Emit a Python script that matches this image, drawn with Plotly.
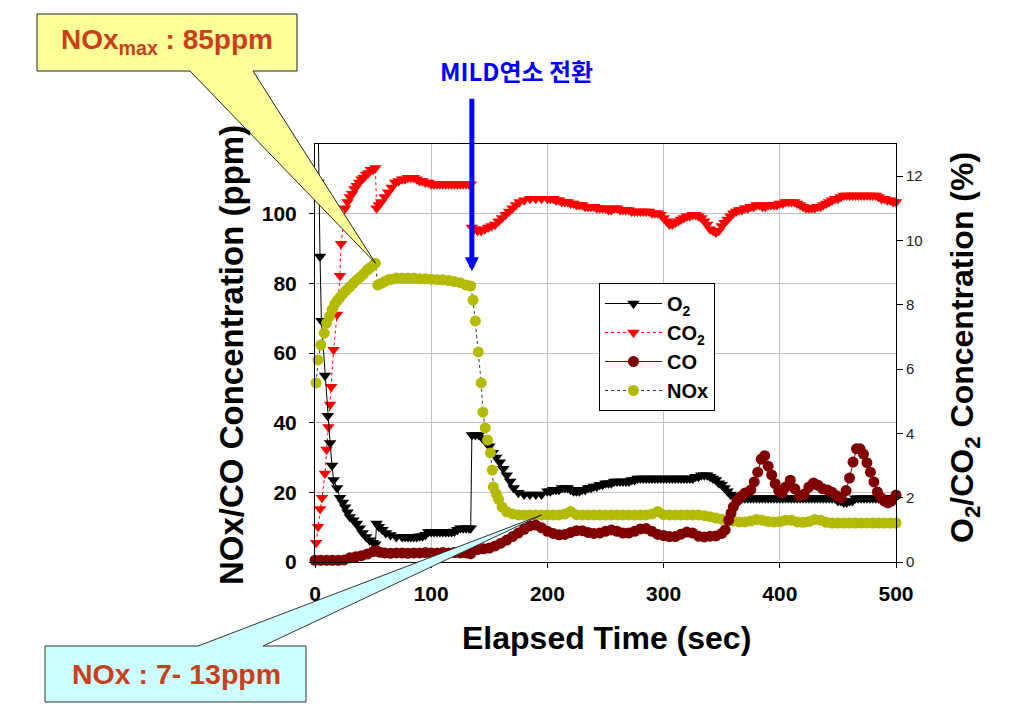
import plotly.graph_objects as go

# ---------------- data ----------------
# O2 (%), right axis
o2_time = ([0, 3, 4.3, 5.5, 8.6, 11, 13, 14.6, 16, 19,
            21.5, 24, 26, 28, 30, 33, 36, 38.5, 41, 44,
            47, 50, 52, 53, 55, 58, 61, 65, 70]
           + [75 + 2.5 * i for i in range(24)]
           + [134, 135, 138, 141, 144, 147, 150, 153, 156,
              159, 162, 165, 168, 171, 175, 180, 185, 190, 195]
           + [200 + 2.5 * i for i in range(121)])
o2_pct = [21.0, 11.8, 9.5, 7.5, 5.8, 4.55, 3.7, 3.0, 2.55, 2.3,
          2.0, 1.85, 1.7, 1.55, 1.4, 1.3, 1.2, 1.05, 0.9, 0.78,
          0.68, 0.6, 0.55, 1.2, 1.1, 1.0, 0.9, 0.84, 0.78,
          # 75 .. 132.5
          0.78, 0.78, 0.78, 0.78, 0.78, 0.78, 0.8, 0.8, 0.85, 0.93,
          0.93, 0.93, 0.93, 0.93, 0.93, 0.93, 0.93, 0.93, 0.95, 1.0,
          1.05, 1.05, 1.05, 1.05,
          # 134 .. 195
          1.05, 3.95, 3.95, 3.95, 3.85, 3.75, 3.6, 3.4, 3.25,
          3.1, 2.9, 2.7, 2.5, 2.3, 2.15, 2.1, 2.1, 2.1, 2.1,
          # 200 .. 500
          2.2, 2.2, 2.25, 2.25, 2.25, 2.3, 2.3, 2.3, 2.25, 2.2,
          2.2, 2.2, 2.25, 2.25, 2.3, 2.3, 2.35, 2.35, 2.4, 2.4,
          2.45, 2.45, 2.45, 2.5, 2.5, 2.5, 2.5, 2.5, 2.5, 2.55,
          2.55, 2.6, 2.6, 2.6, 2.6, 2.6, 2.6, 2.6, 2.6, 2.6,
          2.6, 2.6, 2.6, 2.6, 2.6, 2.6, 2.6, 2.6, 2.6, 2.6,
          2.6, 2.65, 2.65, 2.7, 2.7, 2.7, 2.65, 2.6, 2.55, 2.45,
          2.4, 2.3, 2.2, 2.1, 2.05, 2.0, 1.98, 1.98, 1.98, 1.98,
          1.98, 1.98, 1.98, 1.98, 1.98, 1.98, 1.98, 1.98, 1.98, 1.98,
          1.98, 1.98, 1.98, 1.98, 1.98, 1.98, 1.98, 1.98, 1.98, 1.98,
          1.98, 1.98, 1.98, 1.98, 1.98, 1.98, 1.98, 1.98, 1.98, 1.98,
          1.9, 1.9, 1.85, 1.85, 1.9, 1.9, 1.98, 1.98, 1.98, 1.98,
          1.98, 1.98, 1.98, 1.98, 1.98, 1.98, 1.98, 1.98, 1.98, 1.98,
          1.98]

# CO2 (%), right axis
co2_time = ([1, 2.6, 4.3, 6, 8.6, 10, 11.5, 13, 14, 16,
             19, 21.5, 22.4, 26, 28, 30, 32, 34, 36, 38,
             40, 42, 44, 46, 48, 50, 52, 53, 55, 57,
             60, 63, 66, 69, 72]
            + [75 + 2.5 * i for i in range(24)]
            + [134, 135, 137, 140, 143, 146, 149, 152, 155, 158, 161, 164,
               167, 170, 173, 176, 180, 185, 190, 195]
            + [200 + 2.5 * i for i in range(121)])
co2_pct = [0.6, 1.1, 1.65, 2.0, 2.75, 3.5, 4.2, 4.9, 5.45, 6.6,
           7.7, 8.9, 9.9, 11.0, 11.2, 11.35, 11.45, 11.6, 11.7, 11.8,
           11.9, 11.95, 12.05, 12.1, 12.2, 12.2, 12.25, 11.0, 11.1, 11.2,
           11.35, 11.5, 11.65, 11.8, 11.85,
           # 75 .. 132.5
           11.9, 11.9, 11.95, 11.95, 11.95, 11.9, 11.85, 11.85, 11.8, 11.8,
           11.75, 11.75, 11.75, 11.75, 11.75, 11.75, 11.75, 11.75, 11.75, 11.75,
           11.75, 11.75, 11.75, 11.75,
           # 134 .. 195
           11.75, 10.4, 10.35, 10.3, 10.3, 10.35, 10.4, 10.45, 10.5, 10.6, 10.7, 10.8,
           10.9, 11.0, 11.1, 11.2, 11.25, 11.3, 11.3, 11.3,
           # 200 .. 500
           11.3, 11.3, 11.3, 11.25, 11.25, 11.2, 11.2, 11.2, 11.15, 11.15,
           11.1, 11.1, 11.1, 11.05, 11.05, 11.05, 11.05, 11.0, 11.0, 11.0,
           11.0, 10.95, 10.95, 11.0, 11.0, 10.95, 10.95, 10.95, 10.95, 10.9,
           10.9, 10.9, 10.9, 10.9, 10.9, 10.9, 10.85, 10.85, 10.85, 10.8,
           10.7, 10.6, 10.5, 10.5, 10.55, 10.6, 10.65, 10.7, 10.75, 10.75,
           10.8, 10.8, 10.75, 10.7, 10.6, 10.5, 10.35, 10.3, 10.25, 10.3,
           10.45, 10.55, 10.65, 10.75, 10.85, 10.9, 10.95, 10.95, 11.0, 11.0,
           11.05, 11.05, 11.1, 11.1, 11.05, 11.05, 11.1, 11.1, 11.1, 11.1,
           11.15, 11.15, 11.2, 11.2, 11.2, 11.2, 11.15, 11.1, 11.05, 11.0,
           11.0, 11.0, 11.0, 11.05, 11.05, 11.1, 11.15, 11.2, 11.25, 11.3,
           11.3, 11.35, 11.4, 11.4, 11.4, 11.4, 11.4, 11.4, 11.4, 11.4,
           11.4, 11.4, 11.4, 11.4, 11.35, 11.3, 11.3, 11.25, 11.25, 11.2,
           11.2]

# CO (ppm), left axis
co_time = [0, 5, 10, 15, 20, 25, 30, 35, 40, 45,
           50, 53, 56, 60, 65, 70, 75, 80, 85, 90,
           95, 100, 105, 110, 115, 120, 125, 130, 134, 136,
           140, 145, 150, 155, 160, 165, 170, 175, 180, 185,
           190, 195, 200, 205, 210, 215, 220, 225, 230, 235,
           240, 245, 250, 255, 260, 265, 270, 275, 280, 285,
           290, 295, 300, 305, 310, 315, 320, 325, 330, 335,
           340, 345, 350, 353, 356, 358, 360, 363, 366, 370,
           375, 378, 381, 384, 387, 390, 393, 396, 399, 402,
           405, 409, 413, 417, 421, 425, 429, 433, 437, 441,
           445, 449, 453, 457, 460, 463, 466, 469, 472, 475,
           478, 481, 484, 487, 490, 493, 496, 500]
co_ppm = [0.5, 0.5, 0.5, 0.5, 0.5, 0.6, 1.2, 1.5, 1.8, 2.3,
          3.0, 3.2, 2.8, 2.6, 2.5, 2.6, 2.6, 2.5, 2.6, 2.6,
          2.7, 2.6, 2.6, 2.7, 2.6, 2.7, 2.6, 2.6, 2.4, 3.4,
          3.6, 3.8, 4.0, 4.6, 5.4, 6.3, 7.3, 8.3, 9.4, 10.4,
          10.6, 9.8, 8.8, 8.2, 7.8, 7.9, 8.5, 9.0, 9.0, 8.5,
          8.2, 8.3, 8.8, 9.2, 8.8, 8.3, 8.3, 8.8, 9.5, 9.6,
          8.8, 7.9, 7.6, 7.3, 7.3, 8.0, 8.6, 8.3, 7.4, 7.2,
          7.4, 7.5, 8.2, 9.2, 12.0, 14.0, 15.8, 17.5, 18.7, 19.8,
          20.7, 23.0, 25.8, 29.5, 30.5, 27.5, 25.0, 22.5, 20.5, 19.8,
          21.5, 23.5, 21.0, 18.9, 19.5, 21.5, 22.7, 22.0, 21.0, 20.7,
          20.0, 19.0, 18.4, 20.5, 24.1, 28.7, 32.5, 32.5, 31.0, 28.5,
          25.8, 23.0, 20.1, 18.5, 17.5, 17.0, 17.5, 19.2]

# NOx (ppm), left axis
nox_time = [1, 2.6, 5, 8, 10, 12.5, 14.6, 17, 19, 21.5,
            24, 27, 30, 33, 36, 39, 42, 45, 47, 50,
            52, 54, 57, 60, 63, 66, 70, 75, 80, 85,
            90, 95, 100, 105, 110, 115, 120, 125, 130, 134,
            136, 138, 140.5, 143, 144.5, 146.5, 148.5, 151, 152.6, 153.5,
            156, 158, 161, 165, 170, 175] + list(range(180, 505, 5))
nox_ppm = [51.4, 58, 62.3, 65.7, 68.6, 70.5, 72.4, 74, 75, 76,
           77, 78, 79, 80, 81, 81.8, 82.8, 83.8, 84.4, 85.2,
           85.8, 79.5, 80, 80.5, 81, 81.2, 81.5, 81.5, 81.5, 81.5,
           81.3, 81.3, 81.2, 81.0, 81.0, 80.8, 80.5, 80.2, 79.5, 79.2,
           75.2, 69.2, 60.3, 51.4, 43, 38.5, 35, 31.3, 26.4, 21.5,
           19.5, 18.0, 15.8, 14.4, 13.8, 13.5,
           13.5, 13.5, 13.5, 13.5, 13.5, 13.5, 13.5, 13.8, 14.5, 13.6,
           13.5, 13.5, 13.5, 13.5, 13.5, 13.5, 13.5, 13.5, 13.5, 13.5,
           13.5, 13.5, 13.8, 14.5, 13.6, 13.5, 13.5, 13.5, 13.5, 13.5,
           13.5, 13.3, 13.0, 12.6, 12.3, 12.0, 11.8, 11.5, 11.5, 11.8,
           12.2, 12.0, 11.6, 11.5, 11.6, 12.0, 12.0, 11.5, 11.4, 11.6,
           12.2, 12.0, 11.4, 11.2, 11.2, 11.2, 11.2, 11.2, 11.2, 11.2,
           11.2, 11.2, 11.2, 11.2, 11.2]

assert len(o2_time) == len(o2_pct), (len(o2_time), len(o2_pct))
assert len(co2_time) == len(co2_pct), (len(co2_time), len(co2_pct))
assert len(co_time) == len(co_ppm), (len(co_time), len(co_ppm))
assert len(nox_time) == len(nox_ppm), (len(nox_time), len(nox_ppm))

x_ticks = [0, 100, 200, 300, 400, 500]
left_ticks = [0, 20, 40, 60, 80, 100]
right_ticks = [0, 2, 4, 6, 8, 10, 12]
X_RANGE = [0, 500]
LEFT_RANGE = [0, 120]
RIGHT_RANGE = [0, 13]

# ---------------- layout helpers (pixel -> paper) ----------------
L, R, T, B = 315, 896, 144, 562
def px(X):
    return (X - L) / (R - L)
def py(Y):
    return (B - Y) / (B - T)

FONT = "Liberation Sans, Arial, sans-serif"
CALL_COLOR = "#C8401A"

fig = go.Figure()

fig.add_trace(go.Scatter(
    x=co2_time, y=co2_pct, name="CO<sub>2</sub>", yaxis="y", mode="lines+markers",
    line=dict(color="#FF0000", width=1, dash="dot"),
    marker=dict(symbol="triangle-down", size=11, color="#FF0000", line=dict(width=0)),
    legendrank=2, legendgroup="co2", cliponaxis=False))
fig.add_trace(go.Scatter(
    x=o2_time, y=o2_pct, name="O<sub>2</sub>", yaxis="y", mode="lines+markers",
    line=dict(color="#000000", width=1),
    marker=dict(symbol="triangle-down", size=11, color="#000000", line=dict(width=0)),
    legendrank=1, legendgroup="o2", cliponaxis=True))
fig.add_trace(go.Scatter(
    x=nox_time, y=nox_ppm, name="NOx", yaxis="y2", mode="lines+markers",
    line=dict(color="#333333", width=1, dash="dot"),
    marker=dict(symbol="circle", size=11, color="#B4BA00", line=dict(width=0)),
    legendrank=4, legendgroup="nox", cliponaxis=False))
fig.add_trace(go.Scatter(
    x=co_time, y=co_ppm, name="CO", yaxis="y2", mode="lines+markers",
    line=dict(color="#800000", width=1),
    marker=dict(symbol="circle", size=11, color="#800000", line=dict(width=0)),
    legendrank=3, legendgroup="co", cliponaxis=False))

# callout tips taken from the NOx data
i_max = nox_ppm.index(max(nox_ppm))
tip1 = (nox_time[i_max] / X_RANGE[1], nox_ppm[i_max] / LEFT_RANGE[1])
i_low = nox_time.index(195)
tip2 = (nox_time[i_low] / X_RANGE[1], nox_ppm[i_low] / LEFT_RANGE[1])

yellow = ("M {a},{b} L {c},{b} L {c},{d} L {e},{d} L {tx},{ty} L {f},{d} L {a},{d} Z"
          .format(a=px(37), b=py(14), c=px(297), d=py(71), e=px(253), f=px(190),
                  tx=tip1[0], ty=tip1[1]))
cyan = ("M {a},{b} L {g},{b} L {tx},{ty} L {e},{b} L {c},{b} L {c},{d} L {a},{d} Z"
        .format(a=px(45), b=py(646), c=px(306), d=py(702), g=px(198), e=px(263),
                tx=tip2[0], ty=tip2[1]))

shapes = [
    dict(type="path", path=yellow, xref="paper", yref="paper", layer="above",
         fillcolor="#FFFF99", line=dict(color="#222222", width=1)),
    dict(type="path", path=cyan, xref="paper", yref="paper", layer="above",
         fillcolor="#CCFFFF", line=dict(color="#333333", width=1)),
]

def ann(text, X, Y, size, color="black", family=FONT, bold=True, angle=0):
    return dict(text=text, x=px(X), y=py(Y), xref="paper", yref="paper",
                xanchor="center", yanchor="middle", textangle=angle, showarrow=False,
                font=dict(family=family, size=size, color=color,
                          weight="bold" if bold else "normal"))

annotations = [
    ann("NOx<sub>max</sub> : 85ppm", 167, 42, 28, CALL_COLOR),
    ann("NOx : 7- 13ppm", 176, 674, 28.5, CALL_COLOR),
    ann("MILD연소 전환", 516, 70, 24, "#0000FF", family="Noto Sans CJK KR, sans-serif"),
    dict(text="", x=135, y=83.5, xref="x", yref="y2", showarrow=True,
         ax=0, ay=-174, axref="pixel", ayref="pixel",
         arrowcolor="#0000FF", arrowwidth=5, arrowhead=2, arrowsize=0.56),
    ann("NOx/CO Concentration (ppm)", 231, 355, 33, angle=-90),
    ann("O<sub>2</sub>/CO<sub>2</sub> Concentration (%)", 964, 348, 32, angle=-90),
    ann("Elapsed Time (sec)", 606, 638, 32),
]

fig.update_layout(
    width=1020, height=720,
    margin=dict(l=L, r=1020 - R, t=T, b=720 - B, pad=0),
    paper_bgcolor="white", plot_bgcolor="white",
    showlegend=True,
    legend=dict(x=px(599), y=py(283), xanchor="left", yanchor="top",
                bgcolor="white", bordercolor="black", borderwidth=1,
                font=dict(family=FONT, size=20, color="black", weight="bold"),
                itemwidth=57, tracegroupgap=4, traceorder="normal"),
    xaxis=dict(range=X_RANGE, tickvals=x_ticks, showgrid=True, gridcolor="#C0C0C0", gridwidth=1,
               showline=True, linecolor="black", linewidth=1, mirror=True,
               ticks="outside", ticklen=5, tickcolor="black", zeroline=False,
               ticklabelstandoff=8,
               tickfont=dict(family=FONT, size=21, color="black", weight="bold")),
    yaxis=dict(range=RIGHT_RANGE, tickvals=right_ticks, side="right", showgrid=False,
               showline=True, linecolor="black", linewidth=1,
               ticks="outside", ticklen=6, tickcolor="black", zeroline=False,
               tickfont=dict(family=FONT, size=15, color="#222222")),
    yaxis2=dict(range=LEFT_RANGE, tickvals=left_ticks, side="left", overlaying="y",
                showgrid=True, gridcolor="#C0C0C0", gridwidth=1,
                showline=True, linecolor="black", linewidth=1,
                ticks="outside", ticklen=5, tickcolor="black", zeroline=False,
                ticklabelstandoff=8,
                tickfont=dict(family=FONT, size=21, color="black", weight="bold")),
    shapes=shapes,
    annotations=annotations,
)

fig.write_html("out.html", config={"displayModeBar": False},
               post_script="document.body.style.margin='0';")
